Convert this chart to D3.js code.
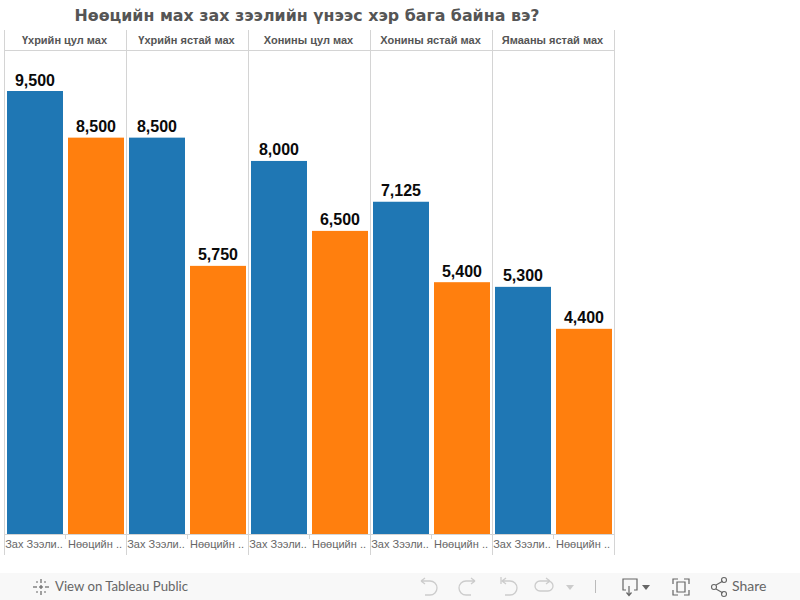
<!DOCTYPE html>
<html><head><meta charset="utf-8">
<script src="https://cdn.jsdelivr.net/npm/d3@7/dist/d3.min.js"></script>
<style>html,body{margin:0;padding:0;background:#fff}svg{display:block}</style>
</head><body><div id="c"></div>
<script>
const titleText = "Нөөцийн мах зах зээлийн үнээс хэр бага байна вэ?";
const categories = ["Үхрийн цул мах","Үхрийн ястай мах","Хонины цул мах","Хонины ястай мах","Ямааны ястай мах"];
const seriesNames = ["Зах Зээлийн үнэ","Нөөцийн мах"];
const seriesShort = ["Зах Зээли..","Нөөцийн .."];
const marketValues = [9500,8500,8000,7125,5300];
const reserveValues = [8500,5750,6500,5400,4400];
const colors = ["#1f77b4","#ff7f0e"];

const W=800,H=600;
const sans="'Liberation Sans'";
const svg=d3.select("#c").append("svg").attr("width",W).attr("height",H);
const gridC="#d4d4d4";
const fx=d3.scaleBand().domain(categories).range([4.5,614.5]);
const y=d3.scaleLinear().domain([0,9500]).range([534,91]);
const topY=30,hdr=50.5,base=534.5,bottomY=555;

svg.append("text").attr("x",307).attr("y",21).attr("text-anchor","middle")
 .attr("font-family","DejaVu Sans").attr("font-weight","bold").attr("font-size",15.85).attr("fill","#555")
 .text(titleText);

const g=svg.append("g").attr("stroke",gridC).attr("stroke-width",1).attr("fill","none");
[...categories.map(c=>fx(c)),614.5].forEach(x=>g.append("line").attr("x1",x).attr("x2",x).attr("y1",topY).attr("y2",bottomY));
g.append("line").attr("x1",4.5).attr("x2",614.5).attr("y1",hdr).attr("y2",hdr);
g.append("line").attr("x1",4.5).attr("x2",614.5).attr("y1",base).attr("y2",base);

const barW=56;
categories.forEach((c,i)=>{
  const p=svg.append("g").attr("transform",`translate(${fx(c)},0)`);
  p.append("text").attr("x",fx.bandwidth()/2-1).attr("y",44).attr("text-anchor","middle")
   .attr("font-family",sans).attr("font-weight","bold").attr("font-size",11).attr("fill","#555").text(c);
  const vals=[marketValues[i],reserveValues[i]];
  seriesNames.forEach((s,j)=>{
    const cx=2.5+barW/2+j*61;
    p.append("rect").attr("x",cx-barW/2).attr("width",barW).attr("y",y(vals[j])).attr("height",y(0)-y(vals[j])).attr("fill",colors[j]);
    p.append("text").attr("x",cx).attr("y",y(vals[j])-5.5).attr("text-anchor","middle")
     .attr("font-family",sans).attr("font-weight","bold").attr("font-size",16).attr("fill","#0a0a0a")
     .text(d3.format(",")(vals[j]));
    p.append("text").attr("x",cx-1).attr("y",548).attr("text-anchor","middle")
     .attr("font-family",sans).attr("font-size",11).attr("fill","#666").text(seriesShort[j]);
    if(j==1) p.append("line").attr("x1",61).attr("x2",61).attr("y1",534.5).attr("y2",539).attr("stroke",gridC);
  });
});

svg.append("rect").attr("x",0).attr("y",573).attr("width",800).attr("height",27).attr("fill","#f8f8f8");
const tb=svg.append("g").attr("fill","none");
const ic=tb.append("g").attr("stroke","#666").attr("stroke-width",1.2).attr("transform","translate(41,587)");
[[-8,0,-4,0],[4,0,8,0],[0,-8,0,-4],[0,4,0,8],[-5,-5,-3,-5],[3,-5,5,-5],[-5,5,-3,5],[3,5,5,5],[-2,0,2,0],[0,-2,0,2]].forEach(d=>ic.append("line").attr("x1",d[0]).attr("y1",d[1]).attr("x2",d[2]).attr("y2",d[3]));
svg.append("text").attr("x",55).attr("y",591).attr("font-family","Lato").attr("font-size",13.2).attr("fill","#666").text("View on Tableau Public");
const dim="#ccc",dk="#666";
tb.append("path").attr("d","M421 581l4 -3M421 581l4 3M421 581h9a7 7 0 0 1 0 14h-5").attr("stroke",dim).attr("stroke-width",1.3);
tb.append("path").attr("d","M475 581l-4 -3M475 581l-4 3M475 581h-9a7 7 0 0 0 0 14h5").attr("stroke",dim).attr("stroke-width",1.3);
tb.append("path").attr("d","M501 577v7M502 581l4 -3M502 581l4 3M502 581h8a7 7 0 0 1 0 14h-5").attr("stroke",dim).attr("stroke-width",1.3);
tb.append("path").attr("d","M550 581l-4 -3M550 581l-4 3M550 581h-10a5 5 0 0 0 0 10h8a5 5 0 0 0 0 -10").attr("stroke",dim).attr("stroke-width",1.3);
svg.append("path").attr("d","M566 585h8l-4 5z").attr("fill",dim);
svg.append("line").attr("x1",595.5).attr("x2",595.5).attr("y1",580).attr("y2",593).attr("stroke","#bbb");
tb.append("path").attr("d","M626 590h-3v-11h14v11h-3M629 586v9M626.5 592.500l2.500 3l2.500 -3").attr("stroke",dk).attr("stroke-width",1.2);
svg.append("path").attr("d","M642 585h8l-4 5z").attr("fill",dk);
tb.append("path").attr("d","M673 584v-5h5M684 579h5v5M689 590v5h-5M678 595h-5v-5M677 582h8v10h-8z").attr("stroke",dk).attr("stroke-width",1.2);
tb.append("path").attr("d","M716 585l7 -4M716 589l7 4").attr("stroke",dk).attr("stroke-width",1.1);
[[714,587],[724,580],[724,594]].forEach(d=>tb.append("circle").attr("cx",d[0]).attr("cy",d[1]).attr("r",2.5).attr("stroke",dk).attr("stroke-width",1.1));
svg.append("text").attr("x",732).attr("y",591).attr("font-family","Lato").attr("font-size",14).attr("fill","#666").text("Share");
</script></body></html>
